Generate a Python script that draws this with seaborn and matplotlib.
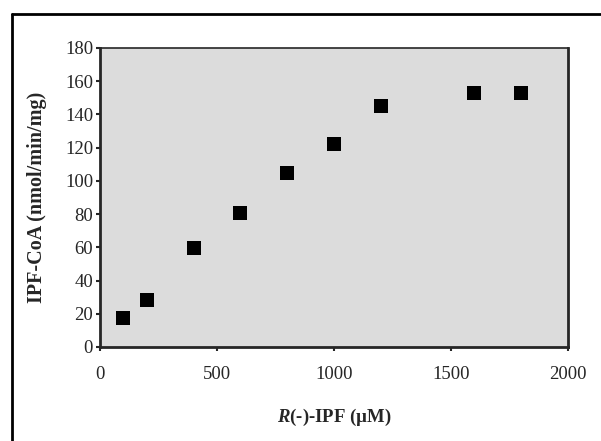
import numpy as np
import pandas as pd
import seaborn as sns
import matplotlib.pyplot as plt
from matplotlib.lines import Line2D

# substrate concentration (uM) and rate (nmol/min/mg)
conc = [100, 200, 400, 600, 800, 1000, 1200, 1600, 1800]
rate = [17.5, 28.5, 59.5, 80.5, 104.5, 122, 145, 153, 153]
x_ticks = [0, 500, 1000, 1500, 2000]
y_ticks = [0, 20, 40, 60, 80, 100, 120, 140, 160, 180]

df = pd.DataFrame({"conc": conc, "rate": rate})

sns.set_style("ticks")
plt.rcParams['font.family'] = ['Liberation Serif', 'DejaVu Serif']
plt.rcParams['mathtext.fontset'] = 'custom'
plt.rcParams['mathtext.it'] = 'Liberation Serif:italic:bold'

fig = plt.figure(figsize=(6.01, 4.41), dpi=100)
ax = fig.add_axes([0.1664, 0.2132, 0.7787, 0.678])
ax.set_facecolor('#dcdcdc')

sns.scatterplot(data=df, x="conc", y="rate", marker="s", s=95, color="black",
                edgecolor="black", linewidth=0, ax=ax, zorder=3)

ax.set_xlim(0, 2000)
ax.set_ylim(0, 180)
ax.set_xticks(x_ticks)
ax.set_yticks(y_ticks)
ax.tick_params(axis='x', direction='out', length=3, width=1.5, pad=11, labelsize=13.5)
ax.tick_params(axis='y', direction='out', length=3, width=1.5, pad=2, labelsize=13.5)

for side in ['left', 'bottom', 'right']:
    ax.spines[side].set_linewidth(2)
ax.spines['top'].set_linewidth(1.2)

ax.set_xlabel(r"$\mathit{R}$(-)-IPF (µM)", fontsize=13.5, fontweight='bold', labelpad=17)
ax.set_ylabel("IPF-CoA (nmol/min/mg)", fontsize=14.5, fontweight='bold', labelpad=13)

# outer frame of the original figure
fig.add_artist(Line2D([12/601, 12/601], [0, 1 - 14/441], color='black', lw=2))
fig.add_artist(Line2D([12/601, 1], [1 - 14/441, 1 - 14/441], color='black', lw=2))

fig.savefig("out.png", dpi=100)
